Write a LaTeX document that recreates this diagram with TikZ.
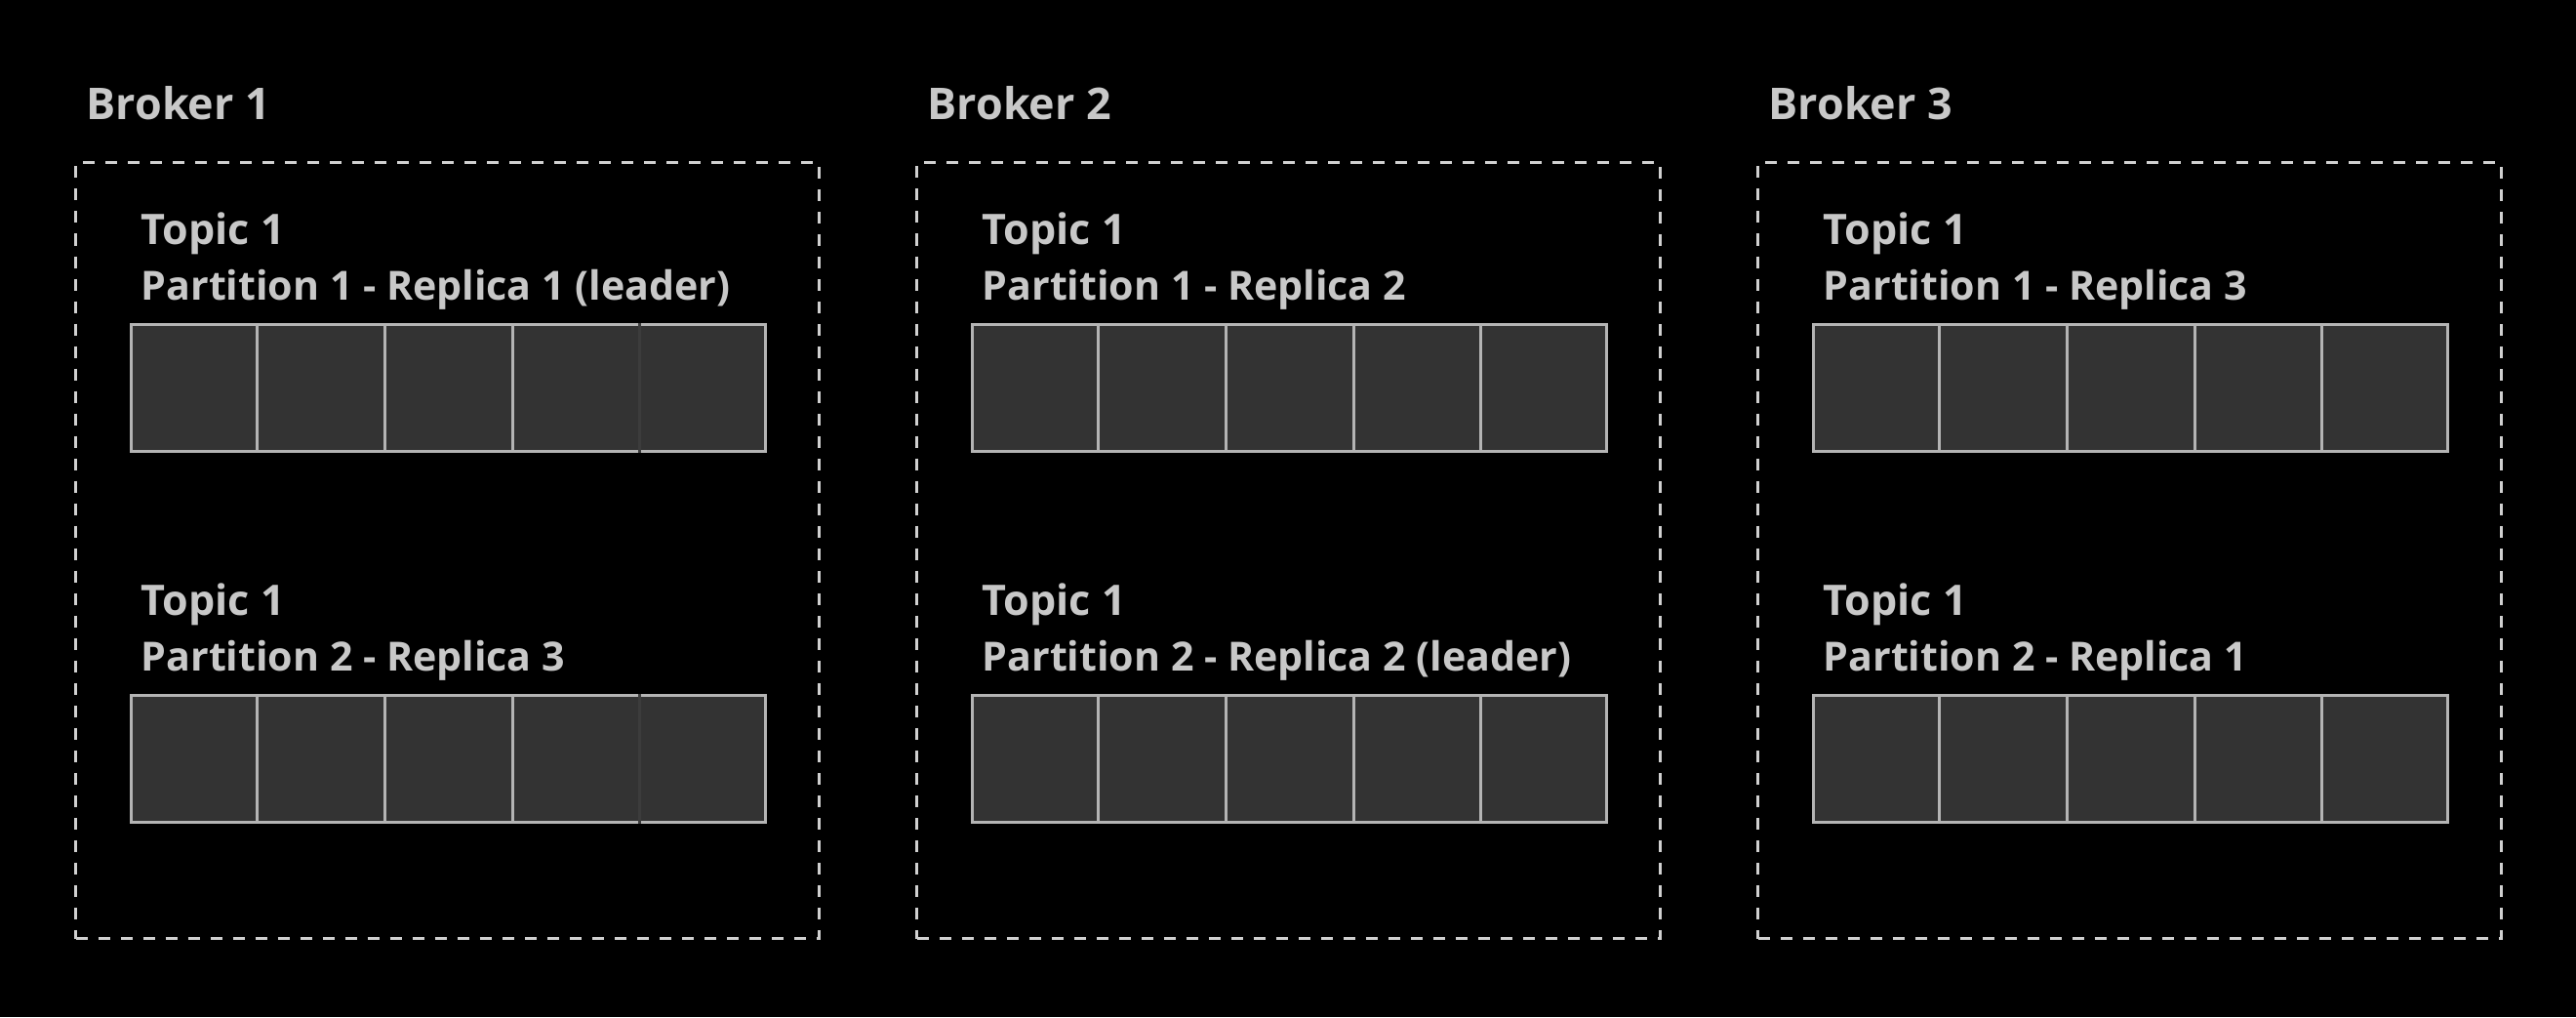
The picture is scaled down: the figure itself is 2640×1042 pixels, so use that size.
\documentclass[tikz,border=0pt]{standalone}
\usepackage{fontspec}
\setmainfont{Open Sans}
\usetikzlibrary{calc}
\definecolor{txt}{HTML}{C8C8C8}
\definecolor{dashc}{HTML}{D0D0D0}
\definecolor{cellfill}{HTML}{333333}
\definecolor{celledge}{HTML}{B4B4B4}
\definecolor{faint}{HTML}{3C3C3C}
\tikzset{
  brokerbox/.style={draw=dashc, line width=0.03cm, dash pattern=on 0.12cm off 0.11cm, minimum width=7.62cm, minimum height=7.95cm, inner sep=0, anchor=north west},
  strip/.style={draw=celledge, fill=cellfill, line width=0.03cm, minimum width=6.5cm, minimum height=1.3cm, inner sep=0, anchor=north west},
  divider/.style={draw=celledge, line width=0.03cm},
  brokerlabel/.style={text=txt, font=\bfseries\fontsize{12.75pt}{14pt}\selectfont, inner sep=0, anchor=base west},
  topiclabel/.style={text=txt, font=\bfseries\fontsize{12.25pt}{14pt}\selectfont, inner sep=0, anchor=base west},
  partlabel/.style={text=txt, font=\bfseries\fontsize{11.7pt}{14pt}\selectfont, inner sep=0, anchor=base west}
}
\begin{document}
\begin{tikzpicture}[x=0.01cm,y=-0.01cm]
\fill[black] (0,0) rectangle (2640,1042);
\useasboundingbox (0,0) rectangle (2640,1042);
\foreach \b/\pa/\pb in {1/{Partition 1 - Replica 1 (leader)}/{Partition 2 - Replica 3},
                        2/{Partition 1 - Replica 2}/{Partition 2 - Replica 2 (leader)},
                        3/{Partition 1 - Replica 3}/{Partition 2 - Replica 1}}{
  \pgfmathsetmacro{\xo}{862*(\b-1)}
  \node[brokerlabel] (bl\b) at (88+\xo,122) {Broker \b};
  \node[brokerbox] (box\b) at (76+\xo,165) {};
  \node[topiclabel] (ta\b) at (144+\xo,250) {Topic 1};
  \node[partlabel] (pa\b) at (144+\xo,307) {\pa};
  \node[strip] (sa\b) at (133+\xo,331) {};
  \node[topiclabel] (tb\b) at (144+\xo,630) {Topic 1};
  \node[partlabel] (pb\b) at (144+\xo,687) {\pb};
  \node[strip] (sb\b) at (133+\xo,711) {};
  \foreach \s in {sa,sb}{
    \foreach \i in {1,2,3,4}{
      \ifnum\b=1 \ifnum\i=4 \def\dc{faint}\else\def\dc{celledge}\fi\else\def\dc{celledge}\fi
      \draw[divider, draw=\dc] ($(\s\b.north west)!\i/5!(\s\b.north east)$) -- ($(\s\b.south west)!\i/5!(\s\b.south east)$);
    }
  }
}
\end{tikzpicture}
\end{document}
